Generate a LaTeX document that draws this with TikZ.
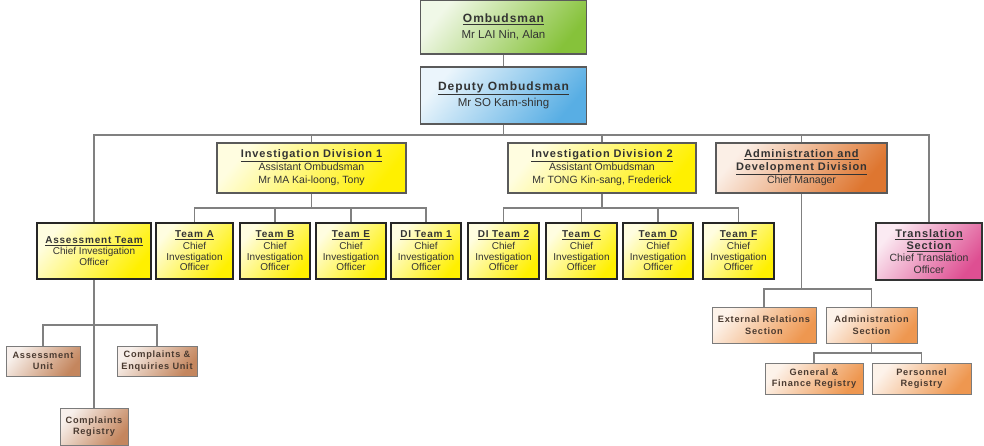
\documentclass[tikz,border=0pt]{standalone}
\usepackage{fontspec}
\setmainfont{Liberation Sans}
\newfontfamily\hdfont{Liberation Sans}[LetterSpace=8]
\usetikzlibrary{calc,positioning}

\definecolor{ombgreen}{HTML}{86C23A}
\definecolor{depblue}{HTML}{58AEE4}
\definecolor{divyellow}{HTML}{FFF000}
\definecolor{admorange}{HTML}{DE7630}
\definecolor{trpink}{HTML}{DE4F92}
\definecolor{unitbrown}{HTML}{C4865E}
\definecolor{secorange}{HTML}{EE9750}
\definecolor{boxline}{HTML}{5A5A5A}
\definecolor{linegray}{HTML}{808080}
\definecolor{txt}{HTML}{333333}
\definecolor{unittxt}{HTML}{4A3A30}

\newcommand{\hd}[1]{{\hdfont\bfseries\underline{#1}}}

\begin{document}
\begin{tikzpicture}[x=1pt, y=-1pt,
  grad/.style={top color=#1!12, bottom color=#1, shading angle=50},
  box/.style={draw=boxline, line width=1.2pt, align=center, inner sep=1pt, text=txt},
  topbox/.style={box, minimum width=166pt, minimum height=54pt, font=\fontsize{11.5}{16.5}\selectfont},
  divbox/.style={box, minimum height=50pt, font=\fontsize{10.5}{13}\selectfont},
  teambox/.style={box, draw=black!85, line width=1.6pt, grad=divyellow, minimum width=70pt, minimum height=56pt, font=\fontsize{10}{10.5}\selectfont},
  unitbox/.style={box, draw=boxline!80, line width=1pt, text=unittxt, font=\hdfont\bfseries\fontsize{9.2}{11.5}\selectfont},
  link/.style={draw=linegray, line width=1.1pt}]
  \useasboundingbox (0,0) rectangle (984,446);

  % top of the chart
  \node[topbox, grad=ombgreen] (omb) at (503.5,27) {\fontsize{12}{16.5}\selectfont\hd{Ombudsman}\\Mr LAI Nin, Alan};
  \node[topbox, grad=depblue, minimum height=57pt] (dep) at (503.5,95.5) {\fontsize{12}{16.5}\selectfont\hd{Deputy Ombudsman}\\Mr SO Kam-shing};

  % divisions
  \node[divbox, grad=divyellow, minimum width=189pt] (idone) at (311.5,168) {\fontsize{11}{13}\selectfont\hd{Investigation Division 1}\\Assistant Ombudsman\\Mr MA Kai-loong, Tony};
  \node[divbox, grad=divyellow, minimum width=188pt] (idtwo) at (602,168) {\fontsize{11}{13}\selectfont\hd{Investigation Division 2}\\Assistant Ombudsman\\Mr TONG Kin-sang, Frederick};
  \node[divbox, grad=admorange, minimum width=171pt] (adm) at (801.5,168) {\fontsize{11}{13}\selectfont\hd{Administration and}\\\fontsize{11}{13}\selectfont\hd{Development Division}\\Chief Manager};

  % teams
  \node[teambox, minimum width=114pt] (asst) at (94,251) {\hd{Assessment Team}\\[1pt]Chief Investigation\\Officer};
  \node[teambox, minimum width=77pt] (ta) at (194.5,251) {\hd{Team A}\\[1.5pt]Chief\\Investigation\\Officer};
  \node[teambox] (tb) at (275,251) {\hd{Team B}\\[1.5pt]Chief\\Investigation\\Officer};
  \node[teambox] (te) at (351,251) {\hd{Team E}\\[1.5pt]Chief\\Investigation\\Officer};
  \node[teambox] (dione) at (426,251) {\hd{DI Team 1}\\[1.5pt]Chief\\Investigation\\Officer};
  \node[teambox, minimum width=71pt] (ditwo) at (503.5,251) {\hd{DI Team 2}\\[1.5pt]Chief\\Investigation\\Officer};
  \node[teambox, minimum width=71pt] (tc) at (581.5,251) {\hd{Team C}\\[1.5pt]Chief\\Investigation\\Officer};
  \node[teambox] (td) at (658,251) {\hd{Team D}\\[1.5pt]Chief\\Investigation\\Officer};
  \node[teambox, minimum width=71pt] (tf) at (738.5,251) {\hd{Team F}\\[1.5pt]Chief\\Investigation\\Officer};
  \node[teambox, grad=trpink, draw=black!80, minimum width=106pt, minimum height=57pt, font=\fontsize{10.5}{12}\selectfont] (tr) at (929,251.5) {\fontsize{11}{12.5}\selectfont\hd{Translation}\\\fontsize{11}{12.5}\selectfont\hd{Section}\\Chief Translation\\Officer};

  % units under the assessment team
  \node[unitbox, grad=unitbrown, minimum width=74pt, minimum height=30pt] (aunit) at (43,361) {Assessment\\Unit};
  \node[unitbox, grad=unitbrown, minimum width=80pt, minimum height=30pt] (ceunit) at (157,361) {Complaints \&\\Enquiries Unit};
  \node[unitbox, grad=unitbrown, minimum width=68pt, minimum height=37pt] (creg) at (94,426.5) {Complaints\\Registry};

  % sections under administration
  \node[unitbox, grad=secorange, minimum width=104pt, minimum height=36pt] (ext) at (764,325) {External Relations\\Section};
  \node[unitbox, grad=secorange, minimum width=91pt, minimum height=36pt] (admsec) at (871.5,325) {Administration\\Section};
  \node[unitbox, grad=secorange, minimum width=98pt, minimum height=31pt] (gfr) at (814,378.5) {General \&\\Finance Registry};
  \node[unitbox, grad=secorange, minimum width=99pt, minimum height=31pt] (pers) at (921.5,378.5) {Personnel\\Registry};

  % connectors
  \coordinate (topbar) at (503.5,135);
  \coordinate (barone) at (311.5,208);
  \coordinate (bartwo) at (602,208);
  \coordinate (abar) at (94,325);
  \coordinate (dbar) at (801.5,289);
  \coordinate (sbar) at (871.5,353);

  \draw[link] (omb) -- (dep);
  \draw[link] (dep) -- (topbar);
  \foreach \n in {asst,idone,idtwo,adm,tr}
    \draw[link] (topbar) -| (\n);
  \draw[link] (idone) -- (barone);
  \foreach \n in {ta,tb,te,dione}
    \draw[link] (barone) -| (\n);
  \draw[link] (idtwo) -- (bartwo);
  \foreach \n in {ditwo,tc,td,tf}
    \draw[link] (bartwo) -| (\n);
  \draw[link] (asst) -- (creg);
  \draw[link] (abar) -| (aunit);
  \draw[link] (abar) -| (ceunit);
  \draw[link] (adm) -- (dbar);
  \draw[link] (dbar) -| (ext);
  \draw[link] (dbar) -| (admsec);
  \draw[link] (admsec) -- (sbar);
  \draw[link] (sbar) -| (gfr);
  \draw[link] (sbar) -| (pers);
\end{tikzpicture}
\end{document}
